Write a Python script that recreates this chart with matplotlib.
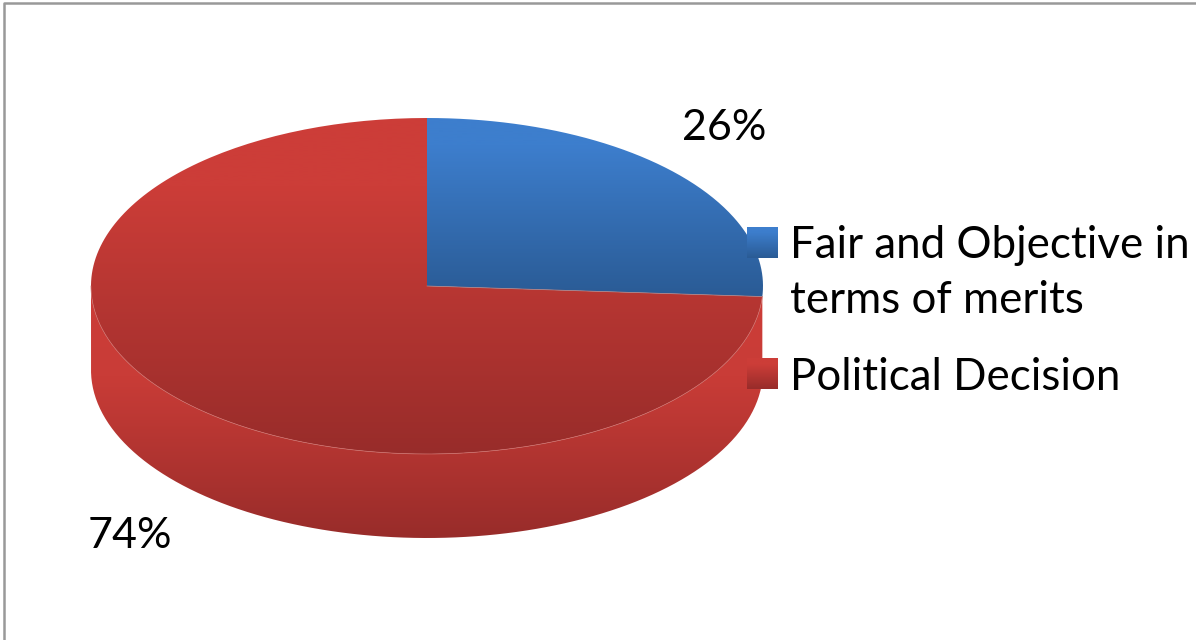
import numpy as np
import matplotlib
matplotlib.use("Agg")
from matplotlib import pyplot as plt
from matplotlib.path import Path
from matplotlib.patches import PathPatch
from matplotlib.colors import LinearSegmentedColormap

labels = ["Fair and Objective in\nterms of merits", "Political Decision"]
shares = [26, 74]
pct_labels = ["26%", "74%"]

plt.rcParams['font.family'] = ['Lato', 'DejaVu Sans']

# pie geometry in picture pixels
cx, cy = 427, 286
rx, ry = 336, 168
depth = 84

blue = LinearSegmentedColormap.from_list("b", [(0, "#3d7ecd"), (0.15, "#3d7ecd"), (1, "#2a5b95")])
red = LinearSegmentedColormap.from_list("r", [(0, "#cc3d38"), (0.2, "#cc3d38"), (1, "#982c2a")])
red_wall = LinearSegmentedColormap.from_list("rw", [(0, "#cc3d38"), (0.36, "#c93c37"), (1, "#982c2a")])

fig = plt.figure(figsize=(11.96, 6.4), dpi=100)
ax = fig.add_axes([0, 0, 1, 1])
ax.set_xlim(0, 1196)
ax.set_ylim(640, 0)
ax.axis("off")


def arc(t0, t1, dy=0):
    t = np.radians(np.linspace(t0, t1, 200))
    return np.column_stack([cx + rx * np.cos(t), cy + dy + ry * np.sin(t)])


def fill(verts, cmap, top, bottom, x0=0, x1=1196):
    # vertical gradient clipped to the outline
    grad = np.linspace(0, 1, 256).reshape(-1, 1)
    im = ax.imshow(grad, cmap=cmap, extent=[x0, x1, bottom, top], aspect="auto", zorder=2)
    verts = np.vstack([verts, verts[0]])
    patch = PathPatch(Path(verts), facecolor="none", edgecolor="none", transform=ax.transData)
    ax.add_patch(patch)
    im.set_clip_path(patch)


# slices run clockwise from twelve o'clock
split = -90 + 360 * shares[0] / sum(shares)

# side wall of the red slice
wall = np.vstack([arc(split, 180), arc(180, split, depth)])
fill(wall, red_wall, cy, cy + ry + depth)

# top faces
red_face = np.vstack([[[cx, cy]], arc(split, 270)])
blue_face = np.vstack([[[cx, cy]], arc(-90, split)])
fill(red_face, red, cy - ry, cy + ry)
fill(blue_face, blue, cy - ry, cy + ry * np.sin(np.radians(split)))

# thin light edges between faces
ax.plot(*arc(split, 180).T, color="#cf6f6b", lw=0.5, zorder=3)
ax.plot(*np.vstack([[cx, cy], arc(split, split + 0.01)[0]]).T, color="#b98484", lw=0.5, zorder=3)

# percent labels
ax.text(724, 128, pct_labels[0], fontsize=31, ha="center", va="center", color="black", zorder=5)
ax.text(130, 536, pct_labels[1], fontsize=31, ha="center", va="center", color="black", zorder=5)

# legend
swatch_y = [227, 358]
text_y = [273, 377]
for i, (cmap, label) in enumerate(zip([blue, red], labels)):
    y = swatch_y[i]
    ax.imshow(np.linspace(0, 1, 64).reshape(-1, 1), cmap=cmap,
              extent=[747, 778, y + 31, y], aspect="auto", zorder=4)
    ax.text(790, text_y[i], label, fontsize=31.6, ha="left", va="center",
            color="black", linespacing=1.45, zorder=5)

# frame, only top and left show
ax.plot([3.5, 3.5, 1196], [640, 2.5, 2.5], color="#999999", lw=1.8, zorder=6)

ax.set_xlim(0, 1196)
ax.set_ylim(640, 0)
fig.savefig("out.png", dpi=100)
